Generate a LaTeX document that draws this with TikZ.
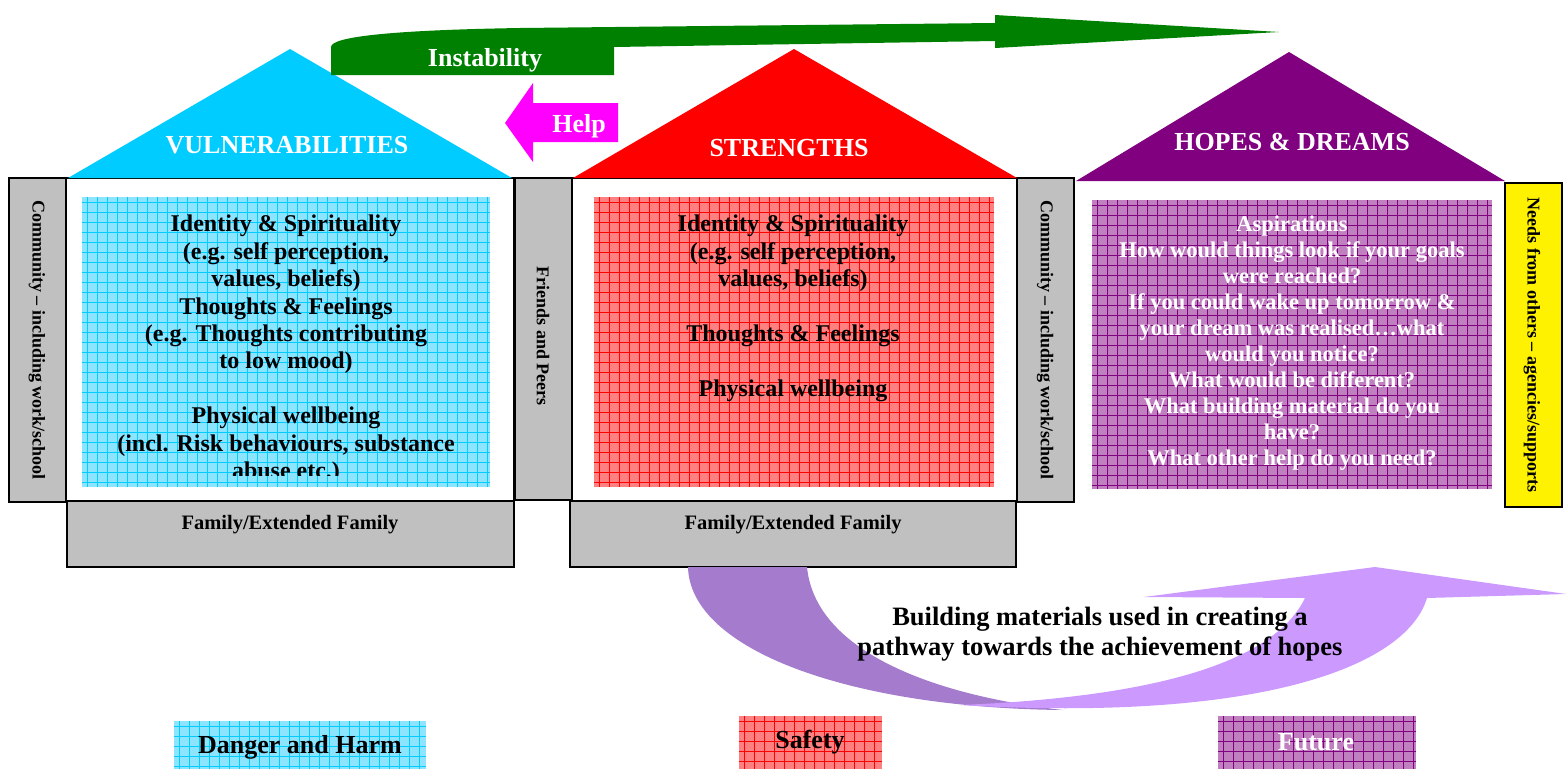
\documentclass[tikz,border=0pt]{standalone}
\usepackage{fontspec}
\setmainfont{Liberation Serif}
\usetikzlibrary{positioning}

\definecolor{vulncyan}{RGB}{0,204,255}
\definecolor{vulnfill}{RGB}{140,228,255}
\definecolor{strred}{RGB}{255,0,0}
\definecolor{strfill}{RGB}{255,128,128}
\definecolor{hopepurple}{RGB}{128,0,128}
\definecolor{hopefill}{RGB}{192,128,192}
\definecolor{wallgray}{RGB}{192,192,192}
\definecolor{instgreen}{RGB}{0,128,0}
\definecolor{helpmagenta}{RGB}{255,0,255}
\definecolor{pathdark}{RGB}{165,123,205}
\definecolor{pathlight}{RGB}{204,153,255}

\tikzset{
  wall/.style={draw=black, line width=1.5pt, fill=wallgray},
  walltext/.style={rotate=-90, font=\fontsize{18}{20}\selectfont\bfseries},
  roofhead/.style={text=white, font=\fontsize{26}{30}\selectfont\bfseries},
  roomtext/.style={align=center, anchor=north, inner sep=0pt,
    font=\fontsize{24}{27.4}\selectfont\bfseries},
  keytext/.style={font=\fontsize{26}{30}\selectfont\bfseries},
}

% squared paper fill: fill, lines, x1, y1, x2, y2
\newcommand{\gridbox}[6]{%
  \fill[#1] (#3,#4) rectangle (#5,#6);
  \pgfmathtruncatemacro{\gw}{#5-#3}
  \pgfmathtruncatemacro{\gh}{#6-#4}
  \foreach \gx in {5,15,...,\gw} \draw[#2, line width=0.5pt] (#3+\gx,#4) -- (#3+\gx,#6);
  \foreach \gy in {5,15,...,\gh} \draw[#2, line width=0.5pt] (#3,#4+\gy) -- (#5,#4+\gy);
}

\begin{document}
\begin{tikzpicture}[x=1pt, y=-1pt]
\useasboundingbox (0,0) rectangle (1566,769);

% house bodies
\draw[line width=1.5pt, fill=white] (66,178) rectangle (514,501);
\draw[line width=1.5pt, fill=white] (572,178) rectangle (1017,501);

% side walls
\draw[wall] (9,178) rectangle (66,502);
\node[walltext] (comleft) at (37,340) {Community -- including work/school};
\draw[wall] (515,178) rectangle (572,500);
\node[walltext] (friends) at (543,336) {Friends and Peers};
\draw[wall] (1017,178) rectangle (1074,502);
\draw[line width=1.5pt, fill=yellow] (1505,183) rectangle (1562,507);
\node[walltext] (comright) at (1045,340) {Community -- including work/school};
\node[walltext] (needs) at (1532,345) {Needs from others -- agencies/supports};

% roofs
\fill[vulncyan] (68,178) -- (290,49) -- (512,178) -- cycle;
\node[roofhead] (vulnhead) at (287,145) {VULNERABILITIES};
\fill[strred] (573,178) -- (794,49) -- (1017,178) -- cycle;
\node[roofhead] (strhead) at (789,148) {STRENGTHS};
\fill[hopepurple] (1076,181) -- (1289,52) -- (1505,181) -- cycle;
\node[roofhead] (hopehead) at (1292,142) {HOPES \& DREAMS};

% floors
\draw[wall] (67,501) rectangle (514,567);
\node[font=\fontsize{20.5}{24}\selectfont\bfseries] (famleft) at (290,525) {Family/Extended Family};
\draw[wall] (570,501) rectangle (1016,567);
\node[font=\fontsize{20.5}{24}\selectfont\bfseries] (famright) at (793,525) {Family/Extended Family};

% rooms
\gridbox{vulnfill}{vulncyan}{82}{197}{490}{487}
\begin{scope}
  \clip (82,197) rectangle (490,475);
  \node[roomtext] (vulntext) at (286,215) {Identity \& Spirituality\\(e.g. self perception,\\values, beliefs)\\Thoughts \& Feelings\\(e.g. Thoughts contributing\\to low mood)\\[27.4pt]Physical wellbeing\\(incl. Risk behaviours, substance\\abuse etc.)};
\end{scope}
\gridbox{strfill}{strred}{594}{197}{994}{487}
\node[roomtext] (strtext) at (793,215) {Identity \& Spirituality\\(e.g. self perception,\\values, beliefs)\\[27.4pt]Thoughts \& Feelings\\[27.4pt]Physical wellbeing};
\gridbox{hopefill}{hopepurple}{1092}{200}{1492}{489}
\node[roomtext, text=white, font=\fontsize{22.5}{26}\selectfont\bfseries] (hopetext) at (1292,216)
  {Aspirations\\How would things look if your goals\\were reached?\\If you could wake up tomorrow \&\\your dream was realised\dots what\\would you notice?\\What would be different?\\What building material do you\\have?\\What other help do you need?};

% instability arrow
\fill[instgreen] (331,75) -- (331,47) .. controls (331,36) and (400,30) .. (520,28)
  -- (995,23) -- (995,15) -- (1279,32) -- (995,48) -- (995,41) -- (614,47) -- (614,75) -- cycle;
\node[roofhead] (instab) at (485,60) {Instability};

% help arrow
\fill[helpmagenta] (618,103) -- (533,103) -- (533,83) -- (505,123) -- (533,162) -- (533,142) -- (618,142) -- cycle;
\node[roofhead] (help) at (579,126) {Help};

% building materials pathway
\fill[pathdark] (688,567) .. controls (690,650) and (850,708) .. (1063,710)
  .. controls (930,695) and (815,650) .. (807,567) -- cycle;
\fill[pathlight] (960,705) .. controls (1250,722) and (1405,670) .. (1427,598)
  -- (1566,594) -- (1375,567) -- (1144,597) -- (1305,598)
  .. controls (1270,670) and (1130,698) .. (960,705) -- cycle;
\node[align=center, font=\fontsize{26.5}{30}\selectfont\bfseries] (pathtext) at (1100,634)
  {Building materials used in creating a\\pathway towards the achievement of hopes};

% key
\gridbox{vulnfill}{vulncyan}{174}{721}{426}{769}
\node[keytext] (keydanger) at (300,747) {Danger and Harm};
\gridbox{strfill}{strred}{739}{716}{882}{769}
\node[keytext] (keysafety) at (810,742) {Safety};
\gridbox{hopefill}{hopepurple}{1218}{716}{1416}{769}
\node[keytext, text=white] (keyfuture) at (1316,742) {Future};
\end{tikzpicture}
\end{document}
